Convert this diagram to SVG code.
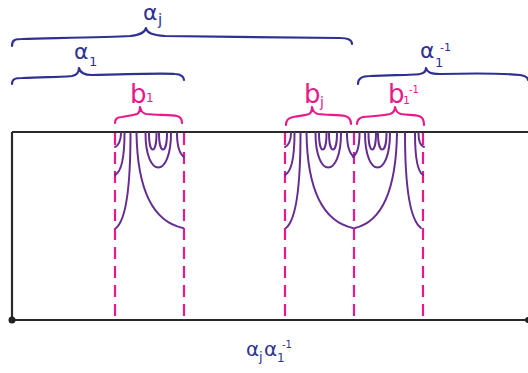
<svg xmlns="http://www.w3.org/2000/svg" xmlns:xlink="http://www.w3.org/1999/xlink" width="528" height="373" viewBox="0 0 528 373">
<style>
.frame{fill:none;stroke:#2a2a2a;stroke-width:2.2}
.dash{fill:none;stroke:#e8198b;stroke-width:2.2;stroke-dasharray:12 7}
.strand{fill:none;stroke:#662d91;stroke-width:2;stroke-linecap:round}
.nbrace{fill:none;stroke:#2e3192;stroke-width:2.2;stroke-linecap:round;stroke-linejoin:round}
.pbrace{fill:none;stroke:#e8198b;stroke-width:2.2;stroke-linecap:round;stroke-linejoin:round}
.nt{fill:#2e3192;font-family:"DejaVu Sans",sans-serif}
.pt{fill:#e8198b;font-family:"DejaVu Sans",sans-serif}
</style>
<defs>
<g id="bBlock" class="strand">
<path d="M6,133 C6,141 3,146 0,147"/>
<path d="M9.5,133 C9.5,160 6,172 0,175"/>
<path d="M15.5,133 C15.5,190 11,220 1,228"/>
<path d="M21.5,133 C22.5,195 40,222 68,228"/>
<path d="M30.5,133 C30.5,179 56,179 56,133"/>
<path d="M34,133 C34,155 41.5,155 41.5,133"/>
<path d="M44,133 C44,155 52,155 52,133"/>
<path d="M62,133 C62,148 65,154 69,157"/>
</g>
</defs>
<g id="frame">
<path class="frame" d="M12,132 H528 M12,132 V320 H528"/>
<circle cx="12" cy="320" r="3.5" fill="#222"/>
<circle cx="528" cy="320" r="3" fill="#222"/>
</g>
<g id="connectors">
<line class="dash" x1="115" y1="133" x2="115" y2="320"/>
<line class="dash" x1="184" y1="133" x2="184" y2="320"/>
<line class="dash" x1="285" y1="133" x2="285" y2="320"/>
<line class="dash" x1="354" y1="133" x2="354" y2="320"/>
<line class="dash" x1="423" y1="133" x2="423" y2="320"/>
</g>
<g id="b1-strands"><use xlink:href="#bBlock" x="115"/></g>
<g id="bj-strands"><use xlink:href="#bBlock" x="285"/></g>
<g id="b1inv-strands" class="strand">
<path d="M359.5,133 C359.5,148 357,154 353,157"/>
<path d="M365,133 C365,179 390,179 390,133"/>
<path d="M368.5,133 C368.5,155 376,155 376,133"/>
<path d="M378,133 C378,155 386.5,155 386.5,133"/>
<path d="M397,133 C396,195 380,222 355,228"/>
<path d="M405,133 C405,190 410,220 421,228"/>
<path d="M415,133 C415,160 418,172 423,175"/>
<path d="M418.5,133 C418.5,141 421,146 424,147"/>
</g>
<g id="alpha-j">
<path class="nbrace" d="M12,46 C12,40 15,39 22,39 C60,38 110,37 130,36 C140,35 145,33 146,28 C147,33 152,35 165,36 C220,37 300,37 340,38 C348,38 352,40 352,44"/>
<text class="nt" x="143" y="20" font-size="22">α</text>
<text class="nt" x="158" y="25" font-size="15">j</text>
</g>
<g id="alpha-1">
<path class="nbrace" d="M12,84 C12,79 15,78 22,78 C45,77 65,77 72,76 C77,75 79,72 79,68 C80,73 84,75 92,75 C130,74 165,73 175,74 C181,74 184,77 184,80"/>
<text class="nt" x="74" y="59" font-size="22">α</text>
<text class="nt" x="89" y="66" font-size="13">1</text>
</g>
<g id="alpha-1-inv">
<path class="nbrace" d="M358,84 C358,78 362,76 370,76 C395,75 415,75 420,74 C425,73 426,71 426,68 C427,72 430,74 440,74 C480,73 510,74 520,75 C526,76 528,78 528,80"/>
<text class="nt" x="420" y="58" font-size="22">α</text>
<text class="nt" x="435" y="67" font-size="13">1</text>
<text class="nt" x="440" y="51" font-size="11">-1</text>
</g>
<g id="b1">
<path class="pbrace" d="M115,123 C115,119 117,117 122,117 C128,116 134,115 137,114 C139,113 140,111 140,107 C141,111 142,113 146,114 C160,115 172,115 177,116 C181,117 182,120 182,123"/>
<text class="pt" x="130" y="103" font-size="26">b</text>
<text class="pt" x="146" y="102" font-size="12">1</text>
</g>
<g id="bj">
<path class="pbrace" d="M286,125 C286,120 288,118 293,117 C300,116 306,115 309,114 C311,113 312,111 312,107 C313,111 314,113 318,114 C330,115 340,115 345,116 C349,117 351,120 351,124"/>
<text class="pt" x="304" y="103" font-size="26">b</text>
<text class="pt" x="320" y="107" font-size="14">j</text>
</g>
<g id="b1-inv">
<path class="pbrace" d="M357,124 C357,120 359,118 363,117 C375,116 385,115 390,114 C393,113 395,111 395,107 C396,111 397,113 401,114 C410,115 415,115 419,116 C423,117 424,121 424,125"/>
<text class="pt" x="388" y="103" font-size="26">b</text>
<text class="pt" x="403" y="104" font-size="11">1</text>
<text class="pt" x="409" y="93" font-size="10">-1</text>
</g>
<g id="bottom-label">
<text class="nt" x="246" y="356" font-size="20">α</text>
<text class="nt" x="259" y="361" font-size="13">j</text>
<text class="nt" x="264" y="356" font-size="20">α</text>
<text class="nt" x="277" y="362" font-size="12">1</text>
<text class="nt" x="282" y="348" font-size="10">-1</text>
</g>
</svg>
